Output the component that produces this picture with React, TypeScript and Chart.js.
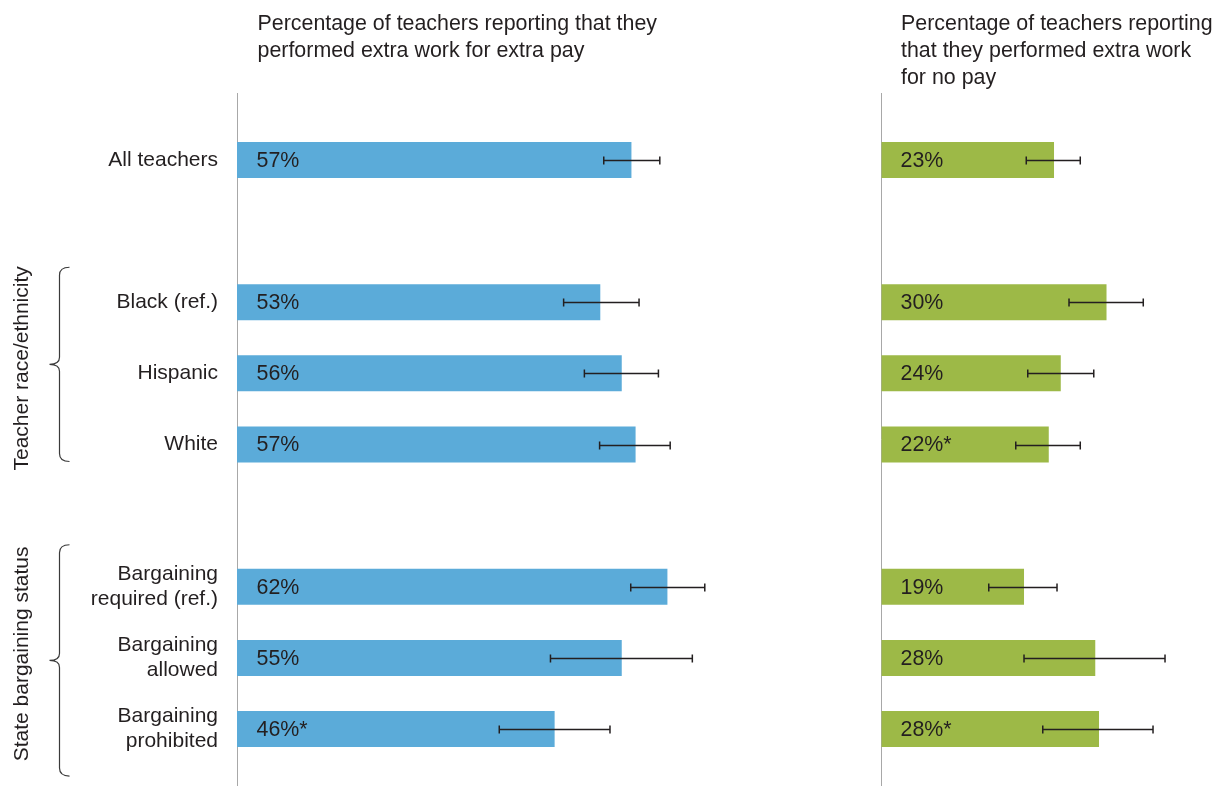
import React, { useEffect, useRef } from 'react';
import { Chart, registerables } from 'chart.js';

Chart.register(...registerables);

// ---------- data ----------
const categories: (string | string[])[] = [
  'All teachers',
  '',
  'Black (ref.)',
  'Hispanic',
  'White',
  '',
  ['Bargaining', 'required (ref.)'],
  ['Bargaining', 'allowed'],
  ['Bargaining', 'prohibited'],
];

const extraPayValues = [57.0, null, 52.5, 55.6, 57.6, null, 62.2, 55.6, 45.9];
const extraPayLow = [53.0, null, 47.2, 50.2, 52.4, null, 56.9, 45.3, 37.9];
const extraPayHigh = [61.1, null, 58.1, 60.9, 62.6, null, 67.6, 65.8, 53.9];
const extraPayLabels = ['57%', '', '53%', '56%', '57%', '', '62%', '55%', '46%*'];

const noPayValues = [23.0, null, 30.0, 23.9, 22.3, null, 19.0, 28.5, 29.0];
const noPayLow = [19.3, null, 25.0, 19.5, 17.9, null, 14.3, 19.0, 21.5];
const noPayHigh = [26.5, null, 34.9, 28.3, 26.5, null, 23.4, 37.8, 36.2];
const noPayLabels = ['23%', '', '30%', '24%', '22%*', '', '19%', '28%', '28%*'];

const titleExtraPay = ['Percentage of teachers reporting that they', 'performed extra work for extra pay'];
const titleNoPay = ['Percentage of teachers reporting', 'that they performed extra work', 'for no pay'];

const groupLabels = ['Teacher race/ethnicity', 'State bargaining status'];
const groupFirst = [2, 6];
const groupLast = [4, 8];

// ---------- styles ----------
const FONT = '"Liberation Sans", Arial, Helvetica, sans-serif';
const TEXT = '#231F20';
const BLUE = '#5BABD9';
const GREEN = '#9DB947';
const AXIS = '#A8A8A8';

export default function App() {
  const ref = useRef<HTMLCanvasElement>(null);

  useEffect(() => {
    const canvas = ref.current;
    if (!canvas) return;

    const series = [
      { axis: 'x', low: extraPayLow, high: extraPayHigh, vals: extraPayValues, labels: extraPayLabels, title: titleExtraPay, titleDx: 20.5, labelDx: 19.5 },
      { axis: 'x2', low: noPayLow, high: noPayHigh, vals: noPayValues, labels: noPayLabels, title: titleNoPay, titleDx: 19.5, labelDx: 19 },
    ];

    const overlay = {
      id: 'overlay',
      beforeDatasetsDraw(chart: any) {
        const ctx = chart.ctx as CanvasRenderingContext2D;
        ctx.save();
        ctx.strokeStyle = AXIS;
        ctx.lineWidth = 1;
        for (const s of series) {
          const px = Math.floor(chart.scales[s.axis].getPixelForValue(0)) + 0.5;
          ctx.beginPath();
          ctx.moveTo(px, 93);
          ctx.lineTo(px, 786);
          ctx.stroke();
        }
        ctx.restore();
      },
      afterDatasetsDraw(chart: any) {
        const ctx = chart.ctx as CanvasRenderingContext2D;
        const yScale = chart.scales.y;
        ctx.save();
        // error bars
        ctx.strokeStyle = TEXT;
        ctx.lineWidth = 1.5;
        for (const s of series) {
          const sc = chart.scales[s.axis];
          s.vals.forEach((v, i) => {
            if (v == null) return;
            const y = Math.round(yScale.getPixelForValue(i)) + 0.5;
            const x1 = sc.getPixelForValue(s.low[i] as number);
            const x2 = sc.getPixelForValue(s.high[i] as number);
            ctx.beginPath();
            ctx.moveTo(x1, y);
            ctx.lineTo(x2, y);
            ctx.moveTo(x1, y - 4);
            ctx.lineTo(x1, y + 4);
            ctx.moveTo(x2, y - 4);
            ctx.lineTo(x2, y + 4);
            ctx.stroke();
          });
        }
        // value labels
        ctx.fillStyle = TEXT;
        ctx.font = `21.4px ${FONT}`;
        ctx.textAlign = 'left';
        ctx.textBaseline = 'middle';
        for (const s of series) {
          const x0 = chart.scales[s.axis].getPixelForValue(0) + s.labelDx;
          s.labels.forEach((t, i) => {
            if (!t) return;
            ctx.fillText(t, x0, yScale.getPixelForValue(i) + 1);
          });
        }
        // titles
        ctx.textBaseline = 'alphabetic';
        for (const s of series) {
          const x0 = chart.scales[s.axis].getPixelForValue(0) + s.titleDx;
          s.title.forEach((line, k) => ctx.fillText(line, x0, 29.5 + k * 27));
        }
        // group braces and labels
        ctx.font = `21px ${FONT}`;
        const braceTopOff = [-35, -42];
        const braceBotOff = [17, 47];
        const labelOff = [-5, -4];
        ctx.strokeStyle = '#3A3A3A';
        ctx.lineWidth = 1.2;
        groupLabels.forEach((g, k) => {
          const yA = yScale.getPixelForValue(groupFirst[k]);
          const yB = yScale.getPixelForValue(groupLast[k]);
          const top = yA + braceTopOff[k];
          const bot = yB + braceBotOff[k];
          const mid = (top + bot) / 2;
          const x = 59.5;
          ctx.beginPath();
          ctx.moveTo(x + 10, top);
          ctx.quadraticCurveTo(x, top, x, top + 8);
          ctx.lineTo(x, mid - 7);
          ctx.quadraticCurveTo(x, mid, x - 10, mid);
          ctx.quadraticCurveTo(x, mid, x, mid + 7);
          ctx.lineTo(x, bot - 8);
          ctx.quadraticCurveTo(x, bot, x + 10, bot);
          ctx.stroke();

          ctx.save();
          ctx.translate(28, (yA + yB) / 2 + labelOff[k]);
          ctx.rotate(-Math.PI / 2);
          ctx.textAlign = 'center';
          ctx.textBaseline = 'alphabetic';
          ctx.fillText(g, 0, 0);
          ctx.restore();
        });
        ctx.restore();
      },
    };

    const chart = new Chart(canvas, {
      type: 'bar',
      data: {
        labels: categories as any,
        datasets: [
          {
            label: titleExtraPay.join(' '),
            data: extraPayValues as any,
            xAxisID: 'x',
            backgroundColor: BLUE,
            grouped: false,
            categoryPercentage: 1,
            barPercentage: 0.506,
          } as any,
          {
            label: titleNoPay.join(' '),
            data: noPayValues as any,
            xAxisID: 'x2',
            backgroundColor: GREEN,
            grouped: false,
            categoryPercentage: 1,
            barPercentage: 0.506,
          } as any,
        ],
      },
      options: {
        indexAxis: 'y',
        responsive: false,
        maintainAspectRatio: false,
        animation: false,
        layout: { padding: { top: 124.4, bottom: 21.4, left: 0, right: 0 } },
        plugins: {
          legend: { display: false },
          tooltip: { enabled: false },
          title: { display: false },
        },
        scales: {
          x: { type: 'linear', min: 0, max: 141.62, display: false },
          x2: { type: 'linear', min: -85.93, max: 44.73, display: false, position: 'bottom' },
          y: {
            type: 'category',
            grid: { display: false, drawTicks: false },
            border: { display: false },
            ticks: {
              padding: 19,
              color: TEXT,
              autoSkip: false,
              font: { family: FONT, size: 21, lineHeight: 1.2 },
            },
            afterFit: (s: any) => {
              s.width = 237;
              s.paddingTop = 0;
              s.paddingBottom = 0;
            },
          },
        },
      } as any,
      plugins: [overlay],
    });

    return () => chart.destroy();
  }, []);

  return (
    <div style={{ position: 'absolute', left: 0, top: 0, width: 1217, height: 786, background: '#fff' }}>
      <canvas ref={ref} width={1217} height={786} style={{ display: 'block', width: 1217, height: 786 }} />
    </div>
  );
}
